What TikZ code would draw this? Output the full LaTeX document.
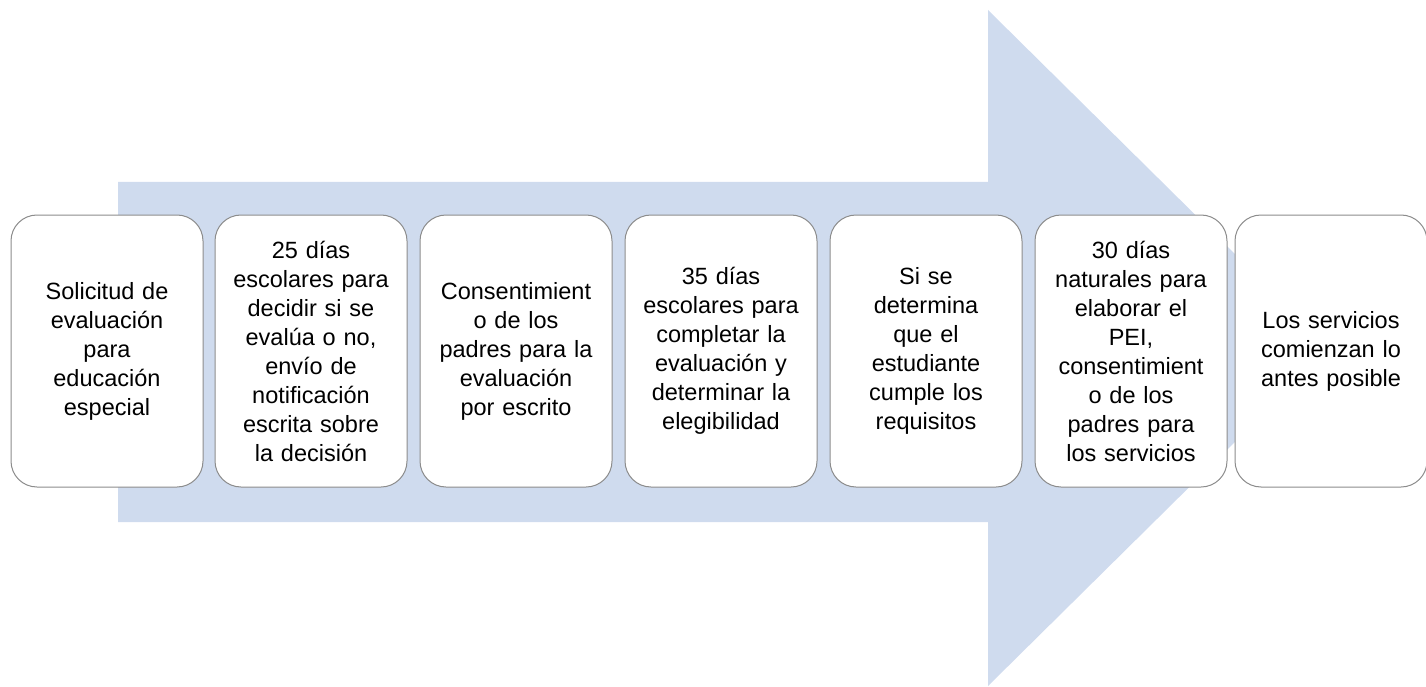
\documentclass[tikz,border=0pt]{standalone}
\usepackage{fontspec}
\setmainfont{Liberation Sans}
\definecolor{arrowblue}{HTML}{CFDBEE}
\definecolor{boxline}{HTML}{8C8C8C}
\tikzset{
  stepbox/.style={draw=boxline, line width=1pt, fill=white, rounded corners=26pt,
    minimum width=192pt, minimum height=272pt, text width=186pt, align=center,
    inner sep=0pt, font=\fontsize{23.5}{29}\selectfont},
}
\begin{document}
\begin{tikzpicture}[x=1pt,y=-1pt]
\useasboundingbox (0,0) rectangle (1426,687);
\fill[arrowblue] (118,182) -- (988,182) -- (988,10) -- (1330,348) -- (988,686) -- (988,522) -- (118,522) -- cycle;
\node[stepbox] (b1) at (107,351) {Solicitud de\\evaluación\\para\\educación\\especial};
\node[stepbox] (b2) at (311,351) {25 días\\escolares para\\decidir si se\\evalúa o no,\\envío de\\notificación\\escrita sobre\\la decisión};
\node[stepbox] (b3) at (516,351) {Consentimient\\o de los\\padres para la\\evaluación\\por escrito};
\node[stepbox] (b4) at (721,351) {35 días\\escolares para\\completar la\\evaluación y\\determinar la\\elegibilidad};
\node[stepbox] (b5) at (926,351) {Si se\\determina\\que el\\estudiante\\cumple los\\requisitos};
\node[stepbox] (b6) at (1131,351) {30 días\\naturales para\\elaborar el\\PEI,\\consentimient\\o de los\\padres para\\los servicios};
\node[stepbox] (b7) at (1331,351) {Los servicios\\comienzan lo\\antes posible};
\end{tikzpicture}
\end{document}
